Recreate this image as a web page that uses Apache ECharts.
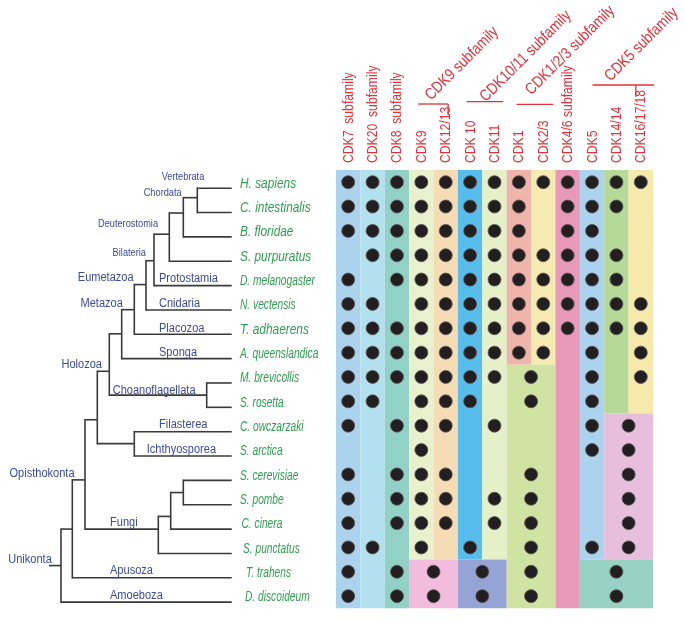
<!DOCTYPE html>
<html><head><meta charset="utf-8">
<script src="https://cdn.jsdelivr.net/npm/echarts@6/dist/echarts.min.js"></script>
<style>html,body{margin:0;padding:0;background:#fff}#c{width:685px;height:619px}</style>
</head><body><div id="c"></div>
<script>
// ---------------- DATA ----------------
const cdkLabels = ['CDK7  subfamily','CDK20  subfamily','CDK8  subfamily','CDK9','CDK12/13','CDK 10','CDK11','CDK1','CDK2/3','CDK4/6 subfamily','CDK5','CDK14/14','CDK16/17/18'];
const species = ['H. sapiens','C. intestinalis','B. floridae','S. purpuratus','D. melanogaster','N. vectensis','T. adhaerens','A. queenslandica','M. brevicollis','S. rosetta','C. owczarzaki','S. arctica','S. cerevisiae','S. pombe','C. cinera','S. punctatus','T. trahens','D. discoideum'];
// columns holding a gene per species; [a,b] = one gene for merged columns a..b
const presence = [
  [0,1,2,3,4,5,6,7,8,9,10,11,12],
  [0,1,2,3,4,5,6,7,9,10,11],
  [0,1,2,3,4,5,6,7,9,10],
  [1,2,3,4,5,6,7,8,9,10,11],
  [0,2,3,4,5,6,7,8,9,10,11],
  [0,1,3,4,5,6,7,8,9,10,11,12],
  [0,1,2,3,4,5,6,7,8,9,10,11,12],
  [0,1,2,3,4,5,6,7,8,10,12],
  [0,1,2,3,4,5,6,[7,8],10,12],
  [0,1,3,4,5,[7,8],10],
  [0,2,3,4,6,10,[11,12]],
  [3,10,[11,12]],
  [0,2,3,4,[7,8],[11,12]],
  [0,2,3,4,6,[7,8],[11,12]],
  [0,2,3,4,6,[7,8],[11,12]],
  [0,1,3,5,[7,8],10,[11,12]],
  [0,2,[3,4],[5,6],[7,8],[10,12]],
  [0,2,[3,4],[5,6],[7,8],[10,12]]
];
// background cell groups: [firstCol, lastCol, firstRow, lastRow]
const cellBlocks = [
  [0,0,0,17],[1,1,0,17],[2,2,0,17],
  [3,3,0,15],[4,4,0,15],[3,4,16,17],
  [5,5,0,15],[6,6,0,15],[5,6,16,17],
  [7,7,0,7],[8,8,0,7],[7,8,8,17],
  [9,9,0,17],
  [10,10,0,15],[11,11,0,9],[12,12,0,9],[11,12,10,15],[10,12,16,17]
];
const subfamilies = ['CDK9 subfamily','CDK10/11 subfamily','CDK1/2/3 subfamily','CDK5 subfamily'];
const subfamilySpans = [[3,4],[5,6],[7,8],[10,12]];
// tree: [id, depth, row position, children]; numeric child = species row
const treeNodes = [
  ['hc',197.3,0.39,[0,1]],
  ['chord',183.3,1.02,['hc',2]],
  ['deut',169.3,1.89,['chord',3]],
  ['bil',154,2.98,['deut',4]],
  ['eum',146,3.96,['bil',5]],
  ['plac',134.3,4.99,['eum',6]],
  ['met',121.7,5.98,['plac',7]],
  ['choano',206.7,8.5,[8,9]],
  ['metcho',109.3,7.52,['met','choano']],
  ['fil',134.3,10.49,[10,11]],
  ['holo',97.3,9.51,['metcho','fil']],
  ['sp',183.3,12.5,[12,13]],
  ['cc',170.7,13.48,['sp',14]],
  ['fungi',158.3,14.0,['cc',15]],
  ['opis',85,11.98,['holo','fungi']],
  ['apus',72.3,14.0,['opis',16]],
  ['uni',61,15.5,['apus',17]]
];
const leafTip = 231.7;
const rootStub = 49;
const cladeNames = ['Vertebrata','Chordata','Deuterostomia','Bilateria','Eumetazoa','Metazoa','Protostamia','Cnidaria','Placozoa','Sponga','Holozoa','Choanoflagellata','Filasterea','Ichthyosporea','Opisthokonta','Fungi','Unikonta','Apusoza','Amoeboza'];

// ---------------- STYLE / LAYOUT ----------------
const cladeAnchor = [
  [183,-0.45,'center'],[181.7,0.18,'right'],[128,1.48,'center'],[129.3,2.65,'center'],
  [105.7,3.68,'center'],[101.7,4.73,'center'],[159,3.72,'left'],[159,4.73,'left'],
  [159,5.75,'left'],[159,6.74,'left'],[81.7,7.26,'center'],[112.7,8.33,'left'],
  [159,9.72,'left'],[146.7,10.75,'left'],[42,11.74,'center'],[110,13.74,'left'],
  [30,15.27,'center'],[110,15.72,'left'],[110,16.74,'left']
];
const cladeFont = [[11,0.84],[11,0.84],[11,0.84],[11,0.84]];
const blockColors = ['#acd3ee','#b2e0ee','#92d1c6','#e8f1cc','#f5dcb4','#f2bddc','#57bdec','#e5f0c8','#95a3d5','#efb5aa','#f5eab0','#d0e3a2','#e898b8','#acd3ee','#b5d996','#f5eaab','#e8bedd','#96d1c3'];
const RED = '#e4303a', BLUE = '#3b4aa0', GREEN = '#2e9f4f', TREE = '#3a3a3a';
const SANS = '"Liberation Sans",Arial,sans-serif';
const wideSpecies = [0,1,2,3,6];
const speciesShift = [0,0,0,0,0,0,0,0,0,0,0,0,0,0,1.5,3,6,5];
// header line geometry (px)
const sfInset = [[9,10],[8.7,3.5],[10,2.3],[12.7,-1]];
const sfLift = [66,68.3,65.7,85];
const sfTick = [[30,11],null,null,[43.3,12]];
const sfText = [[14,-40.5],[22.5,-45.5],[17,-54],[-12.5,-40.5]];

// ---------------- BUILD ----------------
const nodeMap = {};
treeNodes.forEach(n => nodeMap[n[0]] = n);
const childSet = new Set();
treeNodes.forEach(n => n[3].forEach(c => { if (typeof c === 'string') childSet.add(c); }));
const cY = c => typeof c === 'number' ? c : nodeMap[c][2];
const cD = c => typeof c === 'number' ? leafTip : nodeMap[c][1];

const dots = [];
presence.forEach((cols, r) => cols.forEach(c => {
  const a = Array.isArray(c) ? c[0] : c, b = Array.isArray(c) ? c[1] : c;
  dots.push([(a + b + 1) / 2, r + 0.5]);
}));

const chart = echarts.init(document.getElementById('c'), null, {renderer: 'canvas'});
chart.setOption({
  animation: false,
  backgroundColor: '#fff',
  grid: [
    {left: 336, top: 170, width: 317, height: 438.3},
    {left: 0, top: 176, width: 240, height: 438.3}
  ],
  xAxis: [
    {type: 'value', gridIndex: 0, min: 0, max: 13, show: false},
    {type: 'value', gridIndex: 1, min: 0, max: 240, show: false}
  ],
  yAxis: [
    {type: 'value', gridIndex: 0, min: 0, max: 18, inverse: true, show: false},
    {type: 'value', gridIndex: 1, min: -0.5, max: 17.5, inverse: true, show: false}
  ],
  series: [
    {type: 'custom', xAxisIndex: 0, yAxisIndex: 0, z: 1, data: cellBlocks,
     renderItem: (p, api) => {
       const b = cellBlocks[p.dataIndex];
       const p0 = api.coord([b[0], b[2]]), p1 = api.coord([b[1] + 1, b[3] + 1]);
       return {type: 'rect', shape: {x: p0[0], y: p0[1], width: p1[0] - p0[0], height: p1[1] - p0[1]},
               style: {fill: blockColors[p.dataIndex]}};
     }},
    {type: 'scatter', xAxisIndex: 0, yAxisIndex: 0, z: 3, data: dots, symbolSize: 13,
     itemStyle: {color: '#231f20', borderColor: '#5a5657', borderWidth: 0.8, opacity: 1}},
    // column labels
    {type: 'custom', xAxisIndex: 0, yAxisIndex: 0, z: 4, data: cdkLabels.map((l, i) => [i + 0.5, 0]),
     renderItem: (p, api) => {
       const pt = api.coord([p.dataIndex + 0.5, 0]);
       return {type: 'text', x: pt[0] + 0.5, y: pt[1] - 7, rotation: Math.PI / 2, scaleX: 0.84,
         style: {text: cdkLabels[p.dataIndex], fill: RED, font: '14.5px ' + SANS, align: 'left', verticalAlign: 'middle'}};
     }},
    // species labels
    {type: 'custom', xAxisIndex: 0, yAxisIndex: 0, z: 4, data: species.map((s, i) => [0, i + 0.5]),
     renderItem: (p, api) => {
       const i = p.dataIndex, pt = api.coord([0, i + 0.5]);
       const wide = wideSpecies.indexOf(i) >= 0;
       return {type: 'text', x: pt[0] - 96 + speciesShift[i], y: pt[1] + 1.5, scaleX: wide ? 0.86 : 0.74,
         style: {text: species[i], fill: GREEN, font: 'italic 13.8px ' + SANS, align: 'left', verticalAlign: 'middle'}};
     }},
    {type: 'custom', xAxisIndex: 0, yAxisIndex: 0, z: 4, data: subfamilySpans,
     renderItem: (p, api) => {
       const i = p.dataIndex, s = subfamilySpans[i];
       const a = api.coord([s[0], 0]), b = api.coord([s[1] + 1, 0]);
       const x0 = a[0] + sfInset[i][0], x1 = b[0] - sfInset[i][1], y = a[1] - sfLift[i];
       const kids = [{type: 'line', shape: {x1: x0, y1: y, x2: x1, y2: y}, style: {stroke: RED, lineWidth: 1.3}}];
       if (sfTick[i]) kids.push({type: 'line', shape: {x1: x0 + sfTick[i][0], y1: y, x2: x0 + sfTick[i][0], y2: y + sfTick[i][1]}, style: {stroke: RED, lineWidth: 1.3}});
       kids.push({type: 'text', x: x1 + sfText[i][0], y: y + sfText[i][1], rotation: Math.PI / 4, scaleX: 0.84,
         style: {text: subfamilies[i], fill: RED, font: '16px ' + SANS, align: 'center', verticalAlign: 'middle'}});
       return {type: 'group', children: kids};
     }},
    {type: 'custom', xAxisIndex: 1, yAxisIndex: 1, z: 2, data: treeNodes.map(n => [n[1], n[2]]),
     renderItem: (p, api) => {
       const n = treeNodes[p.dataIndex];
       const ys = n[3].map(cY);
       const kids = [];
       const v0 = api.coord([n[1], Math.min.apply(null, ys)]), v1 = api.coord([n[1], Math.max.apply(null, ys)]);
       kids.push({type: 'line', shape: {x1: v0[0], y1: v0[1] - 0.8, x2: v1[0], y2: v1[1] + 0.8}, style: {stroke: TREE, lineWidth: 1.6}});
       n[3].forEach(c => {
         const h0 = api.coord([n[1], cY(c)]), h1 = api.coord([cD(c), cY(c)]);
         kids.push({type: 'line', shape: {x1: h0[0], y1: h0[1], x2: h1[0], y2: h1[1]}, style: {stroke: TREE, lineWidth: 1.6}});
       });
       if (!childSet.has(n[0])) {
         const r0 = api.coord([rootStub, n[2]]), r1 = api.coord([n[1], n[2]]);
         kids.push({type: 'line', shape: {x1: r0[0], y1: r0[1], x2: r1[0], y2: r1[1]}, style: {stroke: TREE, lineWidth: 1.6}});
       }
       return {type: 'group', children: kids};
     }},
    {type: 'custom', xAxisIndex: 1, yAxisIndex: 1, z: 5, data: cladeAnchor.map(a => [a[0], a[1]]),
     renderItem: (p, api) => {
       const i = p.dataIndex, a = cladeAnchor[i];
       const pt = api.coord([a[0], a[1]]);
       const f = cladeFont[i] || [12, 0.92];
       return {type: 'text', x: pt[0], y: pt[1], scaleX: f[1],
         style: {text: cladeNames[i], fill: BLUE, font: f[0] + 'px ' + SANS, align: a[2], verticalAlign: 'middle'}};
     }}
  ]
});
</script></body></html>
